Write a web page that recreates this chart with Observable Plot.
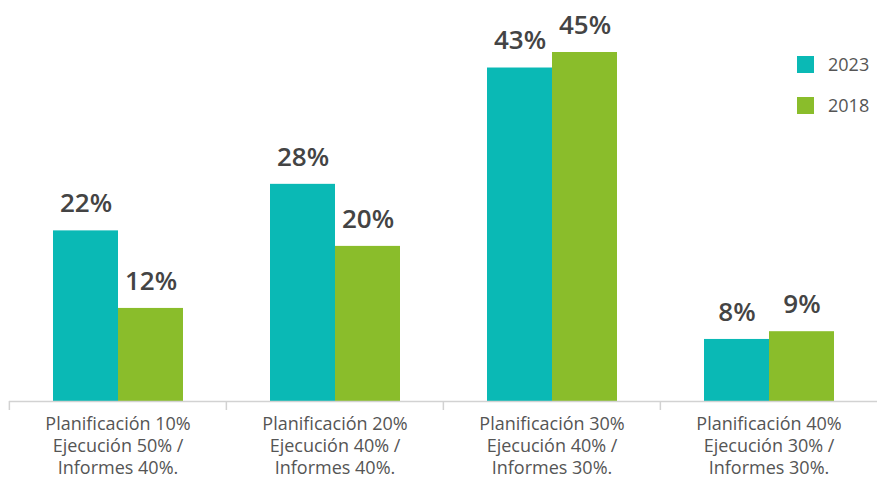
<!DOCTYPE html>
<html>
<head>
<meta charset="utf-8">
<script src="https://cdn.jsdelivr.net/npm/d3@7"></script>
<script src="https://cdn.jsdelivr.net/npm/@observablehq/plot@0.6"></script>
<style>
  body { margin: 0; background: #fff; font-family: "Open Sans", sans-serif; }
  #wrap { position: relative; width: 877px; height: 481px; }
  #legend { position: absolute; left: 797px; top: 55px; font-size: 18px; color: #555; }
  .row { display: flex; align-items: center; height: 18px; margin-bottom: 23px; }
  .sw { width: 17px; height: 17px; margin-right: 14px; }
</style>
</head>
<body>
<div id="wrap"></div>
<script>
const categories = [
  "Planificación 10%\nEjecución 50% /\nInformes 40%.",
  "Planificación 20%\nEjecución 40% /\nInformes 40%.",
  "Planificación 30%\nEjecución 40% /\nInformes 30%.",
  "Planificación 40%\nEjecución 30% /\nInformes 30%."
];
const series = ["2023", "2018"];
const values2023 = [22, 28, 43, 8];
const values2018 = [12, 20, 45, 9];
const colors = ["#0ab9b5", "#8abd2b"];

const data = [];
categories.forEach((c, i) => {
  data.push({cat: c, year: series[0], value: values2023[i]});
  data.push({cat: c, year: series[1], value: values2018[i]});
});

const W = 877, mL = 8, mR = 0;
const band = (W - mL - mR) / categories.length;

const chart = Plot.plot({
  width: W,
  height: 481,
  marginLeft: mL,
  marginRight: mR,
  marginTop: 52,
  marginBottom: 80,
  style: {fontFamily: "Open Sans, sans-serif", background: "#fff"},
  fx: {domain: categories, padding: 0, label: null, axis: null},
  x: {domain: series, paddingInner: 0, paddingOuter: 0.65, axis: null},
  y: {domain: [0, 45], axis: null},
  color: {domain: series, range: colors},
  marks: [
    Plot.barY(data, {fx: "cat", x: "year", y: "value", fill: "year"}),
    Plot.ruleY([0], {stroke: "#d2d2d2", strokeWidth: 1.5}),
    Plot.text(data, {fx: "cat", x: "year", y: "value", text: d => d.value + "%", dy: -27,
      fontSize: 26, fontWeight: 600, fill: "#444"}),
    Plot.axisFx({anchor: "bottom", tickSize: 0, tickPadding: 13, fontSize: 18,
      lineHeight: 1.22, fill: "#555", label: null}),
    Plot.axisFx({anchor: "bottom", tickSize: 9, tickFormat: () => "", stroke: "#d2d2d2",
      strokeWidth: 1.5, dx: -band / 2, label: null})
  ]
});

const wrap = document.getElementById("wrap");
wrap.appendChild(chart);
const legend = document.createElement("div");
legend.id = "legend";
series.forEach((s, i) => {
  const row = document.createElement("div");
  row.className = "row";
  const sw = document.createElement("div");
  sw.className = "sw";
  sw.style.background = colors[i];
  const t = document.createElement("span");
  t.textContent = s;
  row.appendChild(sw);
  row.appendChild(t);
  legend.appendChild(row);
});
wrap.appendChild(legend);
</script>
</body>
</html>
